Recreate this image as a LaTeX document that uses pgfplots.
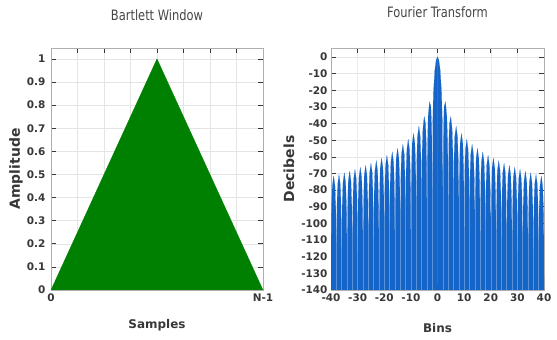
\documentclass[border=0pt]{standalone}
\usepackage{graphicx}
\usepackage{pgfplots}
\pgfplotsset{compat=1.18}
\usepackage{pgfplotstable}
\usepackage{fontspec}
\setmainfont{DejaVu Sans}
\definecolor{wingreen}{RGB}{0,128,0}
\definecolor{ftblue}{RGB}{21,101,200}
\definecolor{tickgray}{RGB}{55,55,55}
\definecolor{titlegray}{RGB}{70,70,70}
\definecolor{framegray}{RGB}{175,175,175}
\definecolor{gridgray}{RGB}{228,228,228}

\pgfplotstableread{
k db
0 -140
0 0
0.5 -1.8
1 -7.8
1.5 -20.9
1.8 -38.5
2 -140
2.07 -58.9
2.2 -41.9
2.5 -29.8
3 -26.9
3.5 -35.6
3.8 -51.4
3.93 -70.0
4 -140
4.07 -70.6
4.2 -53.2
4.5 -40.0
5 -35.8
5.5 -43.5
5.8 -58.8
5.93 -77.2
6 -140
6.07 -80.0
6.2 -62.0
6.5 -47.6
7 -41.6
7.5 -47.6
7.8 -62.0
7.93 -80.0
8 -140
8.07 -84.4
8.2 -66.4
8.5 -52.0
9 -46.0
9.5 -52.0
9.8 -66.4
9.93 -84.4
10 -140
10.07 -87.9
10.2 -69.9
10.5 -55.5
11 -49.5
11.5 -55.5
11.8 -69.9
11.93 -87.9
12 -140
12.07 -90.8
12.2 -72.8
12.5 -58.4
13 -52.4
13.5 -58.4
13.8 -72.8
13.93 -90.8
14 -140
14.07 -93.3
14.2 -75.3
14.5 -60.9
15 -54.9
15.5 -60.9
15.8 -75.3
15.93 -93.3
16 -140
16.07 -95.5
16.2 -77.5
16.5 -63.1
17 -57.1
17.5 -63.1
17.8 -77.5
17.93 -95.5
18 -140
18.07 -97.4
18.2 -79.4
18.5 -65.0
19 -59.0
19.5 -65.0
19.8 -79.4
19.93 -97.4
20 -140
20.07 -99.1
20.2 -81.1
20.5 -66.7
21 -60.7
21.5 -66.7
21.8 -81.1
21.93 -99.1
22 -140
22.07 -100.7
22.2 -82.7
22.5 -68.3
23 -62.3
23.5 -68.3
23.8 -82.7
23.93 -100.7
24 -140
24.07 -102.2
24.2 -84.2
24.5 -69.8
25 -63.8
25.5 -69.8
25.8 -84.2
25.93 -102.2
26 -140
26.07 -103.5
26.2 -85.5
26.5 -71.1
27 -65.1
27.5 -71.1
27.8 -85.5
27.93 -103.5
28 -140
28.07 -104.7
28.2 -86.7
28.5 -72.3
29 -66.3
29.5 -72.3
29.8 -86.7
29.93 -104.7
30 -140
30.07 -105.9
30.2 -87.9
30.5 -73.5
31 -67.5
31.5 -73.5
31.8 -87.9
31.93 -105.9
32 -140
32.07 -107.0
32.2 -89.0
32.5 -74.6
33 -68.6
33.5 -74.6
33.8 -89.0
33.93 -107.0
34 -140
34.07 -108.0
34.2 -90.0
34.5 -75.6
35 -69.6
35.5 -75.6
35.8 -90.0
35.93 -108.0
36 -140
36.07 -109.0
36.2 -91.0
36.5 -76.6
37 -70.6
37.5 -76.6
37.8 -91.0
37.93 -109.0
38 -140
38.07 -109.9
38.2 -91.9
38.5 -77.5
39 -71.5
39.5 -77.5
39.8 -91.9
39.93 -109.9
40 -140
}\fthalf

\pgfplotstableread{
k db
-38 -140
-36 -140
-34 -140
-32 -140
-30 -140
-28 -140
-26 -140
-24 -140
-22 -140
-20 -140
-18 -140
-16 -140
-14 -140
-12 -140
-10 -140
-8 -140
-6 -140
-4 -140
-2 -140
2 -140
4 -140
6 -140
8 -140
10 -140
12 -140
14 -140
16 -140
18 -140
20 -140
22 -140
24 -140
26 -140
28 -140
30 -140
32 -140
34 -140
36 -140
38 -140
}\ftnulls

\pgfplotsset{
  myaxis/.style={
    scale only axis,
    axis line style={framegray},
    grid=major,
    major grid style={gridgray, line width=0.5bp},
    tick align=inside,
    tick pos=both,
    major tick length=5bp,
    every tick/.style={tickgray, line width=0.6bp},
    /pgf/number format/assume math mode=true,
    ticklabel style={font=\bfseries\fontsize{10.5}{12}\selectfont, text=tickgray},
    title style={font=\fontsize{11.5}{14}\selectfont, text=titlegray, at={(axis description cs:0.5,1)}, anchor=base},
    xlabel style={font=\bfseries\fontsize{12}{14}\selectfont, text=tickgray, at={(axis description cs:0.5,0)}, anchor=base},
    ylabel style={font=\bfseries\fontsize{14}{16}\selectfont, text=tickgray, anchor=center},
  }
}

\begin{document}
\begin{tikzpicture}
\path[use as bounding box] (0,0) rectangle (557bp,340bp);
\begin{axis}[myaxis,
  at={(51bp,50bp)}, anchor=south west,
  width=212bp, height=242bp,
  xmin=0, xmax=1, ymin=0, ymax=1.047,
  xtick={0,0.125,0.25,0.375,0.5,0.625,0.75,0.875,1},
  xticklabels={0,,,,,,,,N-1},
  ytick={0,0.1,0.2,0.3,0.4,0.5,0.6,0.7,0.8,0.9,1},
  yticklabels={0,0.1,0.2,0.3,0.4,0.5,0.6,0.7,0.8,0.9,1},
  yticklabel style={xshift=-2bp},
  title={\scalebox{1}[1.25]{Bartlett Window}},
  title style={yshift=22bp},
  xlabel={Samples},
  xlabel style={yshift=-38bp},
  ylabel={Amplitude},
  ylabel style={at={(axis description cs:-0.165,0.5)}},
]
\addplot[fill=wingreen, draw=wingreen, line width=0.3bp] coordinates {(0,0) (0.5,1) (1,0)} -- cycle;
\end{axis}

\begin{axis}[myaxis,
  at={(331bp,50bp)}, anchor=south west,
  width=213bp, height=242bp,
  xmin=-40, xmax=40, ymin=-140, ymax=5.4,
  xtick={-40,-30,-20,-10,0,10,20,30,40},
  ytick={-140,-130,-120,-110,-100,-90,-80,-70,-60,-50,-40,-30,-20,-10,0},
  title={\scalebox{1}[1.25]{Fourier Transform}},
  title style={yshift=25bp},
  xlabel={Bins},
  xlabel style={yshift=-42bp},
  ylabel={Decibels},
  ylabel style={at={(axis description cs:-0.197,0.5)}},
]
\addplot[fill=ftblue, draw=ftblue, line width=0.1bp] table[x=k, y=db] {\fthalf};
\addplot[fill=ftblue, draw=ftblue, line width=0.1bp] table[x expr=-\thisrow{k}, y=db] {\fthalf};
\addplot[ycomb, draw=white, opacity=0.3, line width=0.5bp, mark=none] table[x=k, y=db] {\ftnulls};
\end{axis}
\end{tikzpicture}
\end{document}
